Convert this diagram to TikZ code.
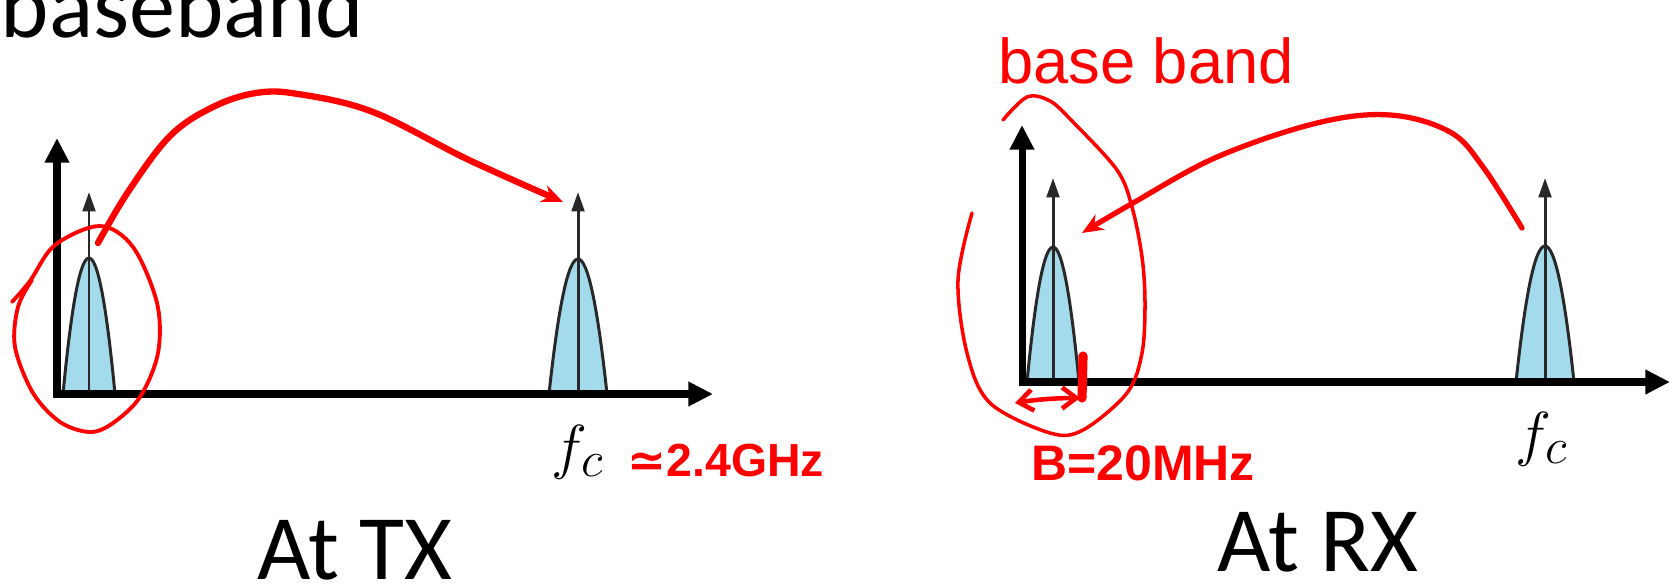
\documentclass[tikz,border=0pt]{standalone}
\usepackage{fontspec}
\setmainfont{Carlito}
\newfontfamily\hand{Liberation Sans}
\newfontfamily\symfont{DejaVu Sans}
\usetikzlibrary{arrows.meta}
\definecolor{peakfill}{RGB}{163,218,236}
\definecolor{peakline}{RGB}{40,40,40}
\definecolor{inkred}{RGB}{255,0,0}
\newcommand\drawpeak[5]{% cx, half width, base y, apex y, spike tip y
  \fill[peakfill] ({#1-#2},#3) .. controls ({#1-#2/3},{#3+4*(#4-#3)/3}) and ({#1+#2/3},{#3+4*(#4-#3)/3}) .. ({#1+#2},#3) -- cycle;
  \draw[peakline, line width=0.85pt] ({#1-#2},#3) .. controls ({#1-#2/3},{#3+4*(#4-#3)/3}) and ({#1+#2/3},{#3+4*(#4-#3)/3}) .. ({#1+#2},#3);
  \draw[spike] (#1,#3) -- (#1,#5);
}
\begin{document}
\begin{tikzpicture}[x=0.01cm,y=-0.01cm,
  axisline/.style={line width=2pt, line join=miter,
    {Triangle[length=7pt,width=6.6pt]}-{Triangle[length=7pt,width=6.6pt]}},
  spike/.style={peakline, line width=0.85pt, -{Triangle[length=5.5pt,width=3.6pt]}},
  ink/.style={draw=inkred, line cap=round, line join=round},
  inkarrow/.style={ink, -{Stealth[length=6pt,width=5pt]}},
  bigtext/.style={inner sep=0pt, text depth=0pt, font=\fontsize{26.2}{30}\selectfont},
  mathlbl/.style={inner sep=0pt, font=\fontsize{19}{22}\selectfont},
  handtext/.style={inner sep=0pt, text=inkred},
]
\useasboundingbox (0,0) rectangle (1670,585);

% titles
\node[bigtext, anchor=base west] (title) at (0,38) {baseband};
\node[bigtext, anchor=base] (attx) at (355,579) {At TX};
\node[bigtext, anchor=base] (atrx) at (1318,571) {At RX};

% peaks
\drawpeak{89}{26}{394}{258}{192}
\drawpeak{578}{29}{394}{259}{192}
\drawpeak{1053}{26}{382}{247}{178}
\drawpeak{1545}{29}{382}{246}{178}

% axes
\coordinate (txO) at (57,394);
\coordinate (txY) at (57,138);
\coordinate (txX) at (713,394);
\coordinate (rxO) at (1022,382);
\coordinate (rxY) at (1022,125);
\coordinate (rxX) at (1670,382);
\draw[axisline] (txY) -- (txO) -- (txX);
\draw[axisline] (rxY) -- (rxO) -- (rxX);

% f_c labels
\node[mathlbl, anchor=base] (fctx) at (578,467) {$f_c$};
\node[mathlbl, anchor=base] (fcrx) at (1542,454) {$f_c$};

% red annotations at TX
\draw[ink, line width=1.1pt] plot[smooth, tension=0.55] coordinates {
  (12,302) (30,281) (55,245) (100,226) (133,247) (157,303) (158,353)
  (140,397) (113,423) (90,432) (60,422) (33,393) (15,347) (18,307) (32,280)};
\draw[inkarrow, line width=1.8pt] plot[smooth, tension=0.6] coordinates {
  (98,243) (128,192) (170,136) (213,107) (256,93) (298,94) (373,112) (469,160) (563,202)};
\node[handtext, anchor=center, font=\hand\bfseries\fontsize{13.2}{15}\selectfont] (ghz) at (726,461) {{\symfont\bfseries ≃}2.4GHz};

% red annotations at RX
\node[handtext, anchor=base, font=\hand\fontsize{18}{20}\selectfont] (bb) at (1146,84) {base band};
\draw[ink, line width=1pt] plot[smooth, tension=0.55] coordinates {
  (1003,120) (1027,97) (1050,101) (1073,122) (1117,170) (1132,207) (1142,257)
  (1145,303) (1142,353) (1127,393) (1083,430) (1050,433) (990,403) (967,353) (958,280) (972,213)};
\draw[inkarrow, line width=1.5pt] plot[smooth, tension=0.6] coordinates {
  (1522,228) (1483,167) (1450,132) (1390,115) (1317,123) (1217,157) (1133,203) (1082,233)};
\draw[ink, line width=1.3pt, {Straight Barb[length=4pt,width=6pt]}-{Straight Barb[length=4pt,width=6pt]}]
  (1015,403) .. controls (1040,399) and (1060,398) .. (1080,398);
\draw[ink, line width=2.6pt] (1083,356) -- (1082,398);
\node[handtext, anchor=center, font=\hand\bfseries\fontsize{14.2}{16}\selectfont] (bw) at (1143,463) {B=20MHz};
\end{tikzpicture}
\end{document}
